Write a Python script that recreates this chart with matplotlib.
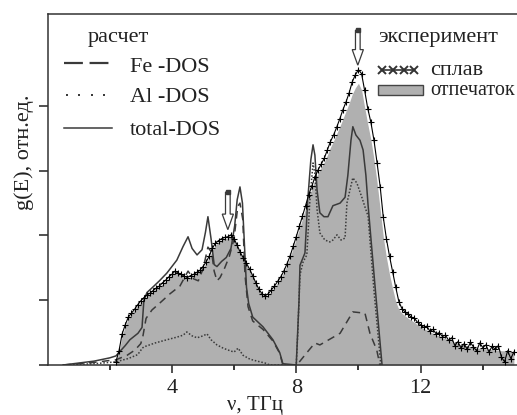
# Phonon DOS: experiment (alloy + imprint) vs calculated Fe/Al/total DOS.

import numpy as np
import matplotlib
matplotlib.use('Agg')
import matplotlib.pyplot as plt
from matplotlib.patches import FancyArrow, Rectangle
from matplotlib.lines import Line2D

plt.rcParams['font.family'] = ['Liberation Serif', 'DejaVu Serif']

# Experimental data (0.1 THz grid).
exp_nu = np.round(np.arange(2.2, 15.05, 0.1), 1)
alloy = [0.05, 0.22, 0.48, 0.62, 0.74, 0.80, 0.86, 0.93, 0.99, 1.04,
         1.08, 1.11, 1.15, 1.19, 1.22, 1.27, 1.31, 1.36, 1.40, 1.45,
         1.42, 1.40, 1.37, 1.35, 1.38, 1.40, 1.43, 1.46, 1.52, 1.59,
         1.68, 1.80, 1.88, 1.92, 1.95, 1.97, 1.98, 2.01, 1.95, 1.85,
         1.74, 1.65, 1.57, 1.48, 1.38, 1.27, 1.17, 1.10, 1.07, 1.10,
         1.16, 1.22, 1.29, 1.36, 1.45, 1.56, 1.68, 1.83, 1.98, 2.14,
         2.30, 2.46, 2.63, 2.76, 2.90, 3.01, 3.10, 3.19, 3.32, 3.45,
         3.55, 3.67, 3.80, 3.94, 4.06, 4.20, 4.37, 4.48, 4.56, 4.50,
         4.24, 3.96, 3.75, 3.47, 3.12, 2.75, 2.28, 1.95, 1.68, 1.44,
         1.20, 0.98, 0.87, 0.82, 0.78, 0.74, 0.72, 0.66, 0.62, 0.58,
         0.60, 0.52, 0.55, 0.48, 0.50, 0.44, 0.46, 0.38, 0.42, 0.30,
         0.36, 0.26, 0.33, 0.24, 0.35, 0.28, 0.22, 0.34, 0.27, 0.31,
         0.20, 0.29, 0.24, 0.30, 0.12, 0.05, 0.22, 0.10, 0.20]
imprint = [0.04, 0.20, 0.45, 0.60, 0.72, 0.79, 0.85, 0.92, 0.97, 1.02,
           1.06, 1.10, 1.14, 1.18, 1.21, 1.25, 1.30, 1.34, 1.39, 1.43,
           1.41, 1.38, 1.35, 1.33, 1.36, 1.39, 1.42, 1.45, 1.50, 1.57,
           1.66, 1.77, 1.85, 1.90, 1.93, 1.95, 1.96, 1.98, 1.93, 1.83,
           1.72, 1.63, 1.55, 1.46, 1.36, 1.25, 1.15, 1.08, 1.05, 1.08,
           1.14, 1.20, 1.27, 1.34, 1.43, 1.54, 1.66, 1.80, 1.95, 2.10,
           2.26, 2.42, 2.58, 2.72, 2.85, 2.96, 3.05, 3.13, 3.24, 3.36,
           3.46, 3.57, 3.68, 3.80, 3.92, 4.04, 4.18, 4.28, 4.35, 4.25,
           3.98, 3.72, 3.48, 3.18, 2.82, 2.40, 1.98, 1.66, 1.40, 1.18,
           0.98, 0.86, 0.80, 0.76, 0.72, 0.69, 0.66, 0.62, 0.59, 0.56,
           0.54, 0.51, 0.49, 0.46, 0.45, 0.42, 0.41, 0.38, 0.37, 0.34,
           0.33, 0.31, 0.30, 0.29, 0.28, 0.27, 0.26, 0.26, 0.25, 0.25,
           0.24, 0.24, 0.23, 0.23, 0.22, 0.22, 0.21, 0.21, 0.21]

# Calculated partial DOS.
fe_nu = [0.5, 1.0, 1.5, 2.0, 2.2, 2.56, 2.81, 3.0, 3.07, 3.17, 3.36, 3.62, 3.94, 4.26,
         4.52, 4.7, 4.85, 5.0, 5.16, 5.28, 5.36, 5.45, 5.55, 5.7, 5.85, 6.0, 6.12, 6.19,
         6.28, 6.35, 6.45, 6.6, 6.93, 7.25, 7.47, 7.57, 8.02, 8.34, 8.6, 8.76, 9.41, 9.82,
         10.21, 10.37, 10.59, 10.69]
fe_dos = [0.0, 0.02, 0.04, 0.07, 0.08, 0.15, 0.23, 0.33, 0.45, 0.72, 0.85, 0.96, 1.10, 1.22,
          1.45, 1.33, 1.30, 1.48, 1.82, 1.74, 1.45, 1.30, 1.35, 1.50, 1.68, 1.95, 2.45, 2.50,
          2.25, 1.40, 0.90, 0.68, 0.55, 0.37, 0.18, 0.0, 0.0, 0.19, 0.34, 0.31, 0.49, 0.82,
          0.80, 0.49, 0.23, 0.0]

al_nu = [0.5, 1.0, 1.5, 2.0, 2.2, 2.6, 2.9, 3.05, 3.1, 3.46, 3.84, 4.16, 4.36, 4.48, 4.65,
         4.81, 5.0, 5.13, 5.26, 5.45, 5.65, 5.87, 6.0, 6.13, 6.29, 6.51, 6.74, 7.0, 7.15,
         8.0, 8.05, 8.12, 8.22, 8.34, 8.44, 8.54, 8.6, 8.67, 8.76, 8.92, 9.08, 9.18, 9.31,
         9.44, 9.57, 9.63, 9.74, 9.82, 9.95, 10.11, 10.21, 10.31, 10.5, 10.72]
al_dos = [0.0, 0.01, 0.02, 0.04, 0.05, 0.10, 0.16, 0.26, 0.28, 0.34, 0.39, 0.43, 0.46, 0.51, 0.45,
          0.42, 0.45, 0.48, 0.39, 0.31, 0.26, 0.22, 0.20, 0.26, 0.15, 0.09, 0.06, 0.03, 0.0,
          0.0, 0.50, 1.39, 1.59, 1.70, 2.55, 3.12, 2.95, 2.40, 2.04, 1.93, 1.90, 1.93, 2.01,
          1.93, 1.96, 2.50, 2.73, 2.89, 2.81, 2.59, 2.44, 2.30, 1.15, 0.0]

tot_nu = [0.5, 1.0, 1.5, 2.0, 2.2, 2.5, 2.65, 2.91, 3.04, 3.1, 3.2, 3.36, 3.6, 3.84, 4.16,
          4.36, 4.52, 4.65, 4.81, 4.97, 5.08, 5.16, 5.26, 5.36, 5.45, 5.6, 5.75, 5.9, 6.02,
          6.1, 6.19, 6.27, 6.33, 6.4, 6.47, 6.6, 6.93, 7.25, 7.47, 7.57, 8.0, 8.09, 8.12,
          8.28, 8.37, 8.47, 8.54, 8.6, 8.67, 8.76, 8.89, 9.02, 9.18, 9.41, 9.57, 9.66, 9.76,
          9.82, 9.92, 10.05, 10.15, 10.24, 10.31, 10.53, 10.76]
tot_dos = [0.0, 0.03, 0.06, 0.11, 0.14, 0.30, 0.39, 0.49, 0.58, 1.00, 1.12, 1.19, 1.30, 1.42, 1.62,
           1.83, 1.98, 1.80, 1.70, 1.78, 2.05, 2.29, 1.95, 1.55, 1.52, 1.60, 1.66, 1.80, 2.15,
           2.55, 2.75, 2.50, 1.90, 1.20, 0.95, 0.74, 0.59, 0.39, 0.19, 0.02, 0.0, 1.00, 1.54,
           1.73, 2.55, 3.17, 3.40, 3.24, 2.70, 2.35, 2.29, 2.29, 2.46, 2.50, 2.59, 2.93, 3.47,
           3.68, 3.55, 3.47, 3.32, 2.93, 2.47, 1.24, 0.0]

# Peak markers (arrows).
arrow_nu = [5.8, 9.98]
arrow_top = [2.67, 5.17]
arrow_tip = [2.09, 4.63]

calc_col = '#3a3a3a'
gray = '#b0b0b0'
txt = '#222222'

fig = plt.figure(figsize=(5.17, 4.15), dpi=100)
ax = fig.add_axes([47.5 / 517, 50 / 415, 469.5 / 517, 351 / 415])

ax.fill_between(exp_nu, imprint, color=gray, lw=0, zorder=1)
ax.plot(fe_nu, fe_dos, color=calc_col, lw=1.1, ls=(0, (5, 3.5)), zorder=2)
ax.plot(al_nu, al_dos, color=calc_col, lw=1.1, ls=(0, (1, 1.2)), zorder=2)
ax.plot(tot_nu, tot_dos, color=calc_col, lw=1.1, zorder=2)
ax.plot(exp_nu, alloy, color='black', lw=0.8, marker='+', ms=4, mew=0.8, zorder=3)

for x, yt, yb in zip(arrow_nu, arrow_top, arrow_tip):
    ax.add_patch(FancyArrow(x, yt, 0, yb - yt, width=0.15, head_width=0.36,
                            head_length=0.24, length_includes_head=True,
                            fc='white', ec=calc_col, lw=0.9, zorder=4))
    ax.plot([x], [yt], marker='s', ms=3, color=calc_col, zorder=5)

ax.set_xlim(0, 15.1)
ax.set_ylim(0, 5.42)

ax.set_xticks([4, 8, 12])
ax.set_xticks([2, 6, 10, 14], minor=True)
ax.set_yticks([0, 1, 2, 3, 4])
ax.set_yticklabels([])
ax.tick_params(axis='x', which='major', direction='out', length=6, width=1.1,
               labelsize=16, pad=4, colors=txt)
ax.tick_params(axis='x', which='minor', direction='out', length=3.5, width=1.1)
ax.tick_params(axis='y', direction='out', length=6.5, width=1.1, colors=txt)

ax.spines['right'].set_visible(False)
for s in ['left', 'top', 'bottom']:
    ax.spines[s].set_linewidth(1.1)
    ax.spines[s].set_color('#333333')

# Axis labels.
fig.text(255 / 517, 5 / 415, 'ν, ТГц', ha='center', va='baseline', fontsize=15, color=txt)
fig.text(24 / 517, (415 - 152) / 415, 'g(E), отн.ед.', ha='center', va='center',
         rotation=90, fontsize=16, color=txt)

# Left legend (calculation).
ax.text(1.28, 4.99, 'расчет', fontsize=16, va='baseline', color=txt)
ax.add_line(Line2D([0.53, 2.07], [4.66, 4.66], color=calc_col, lw=1.6, ls=(0, (8.5, 3))))
ax.add_line(Line2D([0.63, 1.01, 1.43, 1.82], [4.17, 4.17, 4.17, 4.17], ls='none',
                   marker='s', ms=1.7, mew=0, color=calc_col))
ax.add_line(Line2D([0.53, 2.07], [3.66, 3.66], color=calc_col, lw=1.1))
ax.text(2.65, 4.53, 'Fe -DOS', fontsize=16, va='baseline', color=txt)
ax.text(2.65, 4.06, 'Al -DOS', fontsize=16, va='baseline', color=txt)
ax.text(2.65, 3.55, 'total-DOS', fontsize=16, va='baseline', color=txt)

# Right legend (experiment).
ax.text(10.63, 4.99, 'эксперимент', fontsize=16, va='baseline', color=txt)
ax.add_line(Line2D([10.75, 11.1, 11.45, 11.8], [4.56, 4.56, 4.56, 4.56], color='#333333',
                   lw=1.2, marker='x', ms=6, mew=1.4))
ax.text(12.3, 4.48, 'сплав', fontsize=16, va='baseline', color=txt)
ax.add_patch(Rectangle((10.63, 4.17), 1.44, 0.16, fc=gray, ec='#444444', lw=1.0))
ax.text(12.3, 4.17, 'отпечаток', fontsize=14.5, va='baseline', color=txt)

fig.savefig('out.png', dpi=100)
